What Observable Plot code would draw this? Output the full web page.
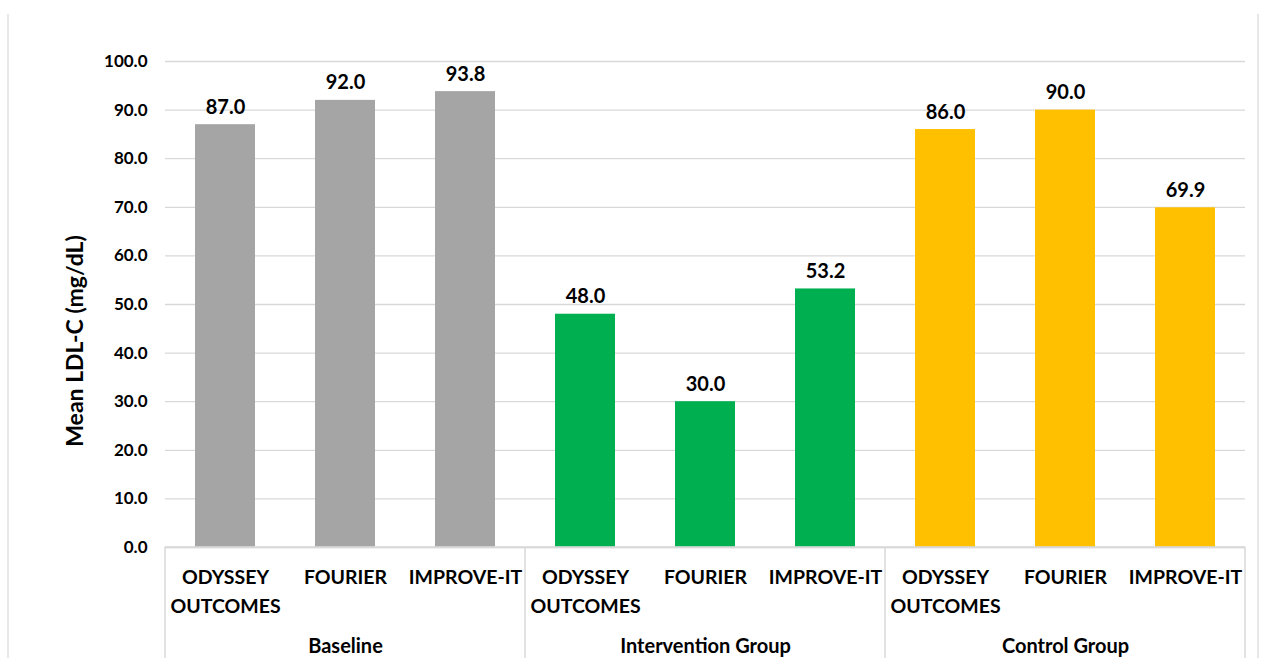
<!DOCTYPE html>
<html><head><meta charset="utf-8">
<script src="https://cdn.jsdelivr.net/npm/d3@7"></script>
<script src="https://cdn.jsdelivr.net/npm/@observablehq/plot@0.6"></script>
<style>
html,body{margin:0;padding:0;background:#fff;}
#chart{width:1268px;height:658px;overflow:hidden;}
</style></head>
<body><div id="chart"></div>
<script>
const groups = ["Baseline", "Intervention Group", "Control Group"];
const trials = ["ODYSSEY OUTCOMES", "FOURIER", "IMPROVE-IT"];
const trialLabels = ["ODYSSEY\nOUTCOMES", "FOURIER", "IMPROVE-IT"];
const baselineValues = [87.0, 92.0, 93.8];
const interventionValues = [48.0, 30.0, 53.2];
const controlValues = [86.0, 90.0, 69.9];
const groupColors = ["#a5a5a5", "#00b050", "#ffc000"];
const yTicks = [0, 10, 20, 30, 40, 50, 60, 70, 80, 90, 100];
const yTitle = "Mean LDL-C (mg/dL)";

const seriesValues = [baselineValues, interventionValues, controlValues];
const data = [];
groups.forEach((g, gi) => trials.forEach((t, ti) => data.push({group: g, trial: t, value: seriesValues[gi][ti]})));

const font = "Lato, 'Open Sans', sans-serif";
const W = 1268, H = 658;

const chart = Plot.plot({
  width: W, height: H,
  marginLeft: 165, marginRight: 23, marginTop: 61, marginBottom: 111,
  style: {fontFamily: font, fontWeight: "bold", color: "#000", background: "#fff"},
  fx: {domain: groups, padding: 0},
  x: {domain: trials, paddingInner: 0.5, paddingOuter: 0.25},
  y: {domain: [0, 100]},
  color: {domain: groups, range: groupColors},
  marks: [
    Plot.gridY(yTicks, {stroke: "#d9d9d9", strokeOpacity: 1, strokeWidth: 1.3}),
    Plot.barY(data, {fx: "group", x: "trial", y: "value", fill: "group"}),
    Plot.ruleY([0], {stroke: "#d9d9d9", strokeWidth: 1.5}),
    Plot.text(data, {fx: "group", x: "trial", y: "value", text: d => d.value.toFixed(1),
      dy: -11, lineAnchor: "bottom", fontSize: 20, fontWeight: "bold", fill: "#000"}),
    Plot.axisY(yTicks, {tickSize: 0, tickPadding: 18, tickFormat: d => d.toFixed(1), fontSize: 17, label: null}),
    Plot.axisX({anchor: "bottom", tickSize: 0, tickPadding: 17, fontSize: 19.5, lineHeight: 1.44,
      tickFormat: d => trialLabels[trials.indexOf(d)], label: null}),
    Plot.axisFx({anchor: "bottom", tickSize: 0, tickPadding: 91, fontSize: 20, label: null})
  ]
});
document.getElementById("chart").appendChild(chart);

// Category box separators and borders derived from the fx/y scales
const svg = d3.select(chart);
const fx = chart.scale("fx");
const ys = chart.scale("y");
const y0 = ys.apply(0);
const edges = groups.map(g => fx.apply(g));
edges.push(fx.apply(groups[groups.length - 1]) + fx.bandwidth);
const sep = svg.append("g").attr("stroke", "#d9d9d9").attr("stroke-width", 1.5);
edges.forEach(x => sep.append("line").attr("x1", x).attr("x2", x).attr("y1", y0).attr("y2", H));
sep.append("line").attr("x1", edges[0]).attr("x2", edges[edges.length - 1]).attr("y1", y0).attr("y2", y0);
// outer chart border (left/right)
const border = svg.append("g").attr("stroke", "#d9d9d9").attr("stroke-width", 1.2);
border.append("line").attr("x1", 8).attr("x2", 8).attr("y1", 14).attr("y2", H);
border.append("line").attr("x1", 1258).attr("x2", 1258).attr("y1", 14).attr("y2", H);
// y title
svg.append("text")
  .attr("transform", `translate(74,${(ys.apply(0) + ys.apply(100)) / 2 + 37}) rotate(-90)`)
  .attr("text-anchor", "middle").attr("dominant-baseline", "central")
  .attr("font-family", font).attr("font-weight", "bold").attr("font-size", 23)
  .attr("fill", "#000").text(yTitle);
</script></body></html>
